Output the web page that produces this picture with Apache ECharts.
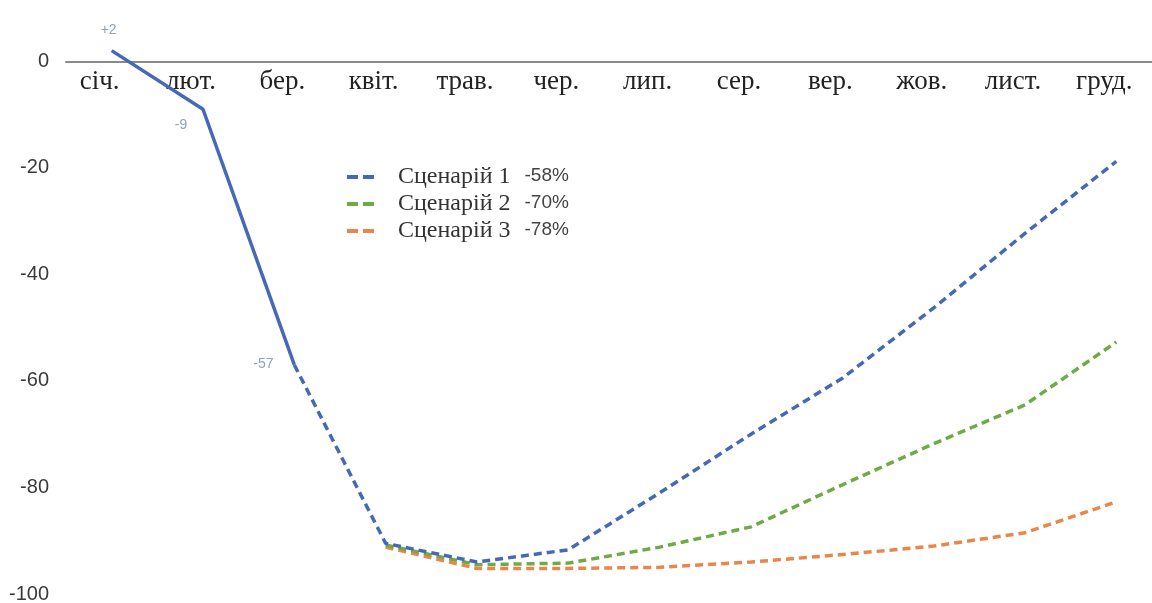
<!DOCTYPE html>
<html>
<head>
<meta charset="utf-8">
<script src="https://cdn.jsdelivr.net/npm/echarts@6/dist/echarts.min.js"></script>
<style>
  html, body { margin: 0; padding: 0; background: #fff; }
  #chart { width: 1152px; height: 603px; }
</style>
</head>
<body>
<div id="chart"></div>
<script>
// Months of the year
const months = ['січ.', 'лют.', 'бер.', 'квіт.', 'трав.', 'чер.', 'лип.', 'сер.', 'вер.', 'жов.', 'лист.', 'груд.'];

// Observed change, %
const actual = [2, -9, -57, null, null, null, null, null, null, null, null, null];

// Forecast scenarios, %
const scenario1 = [null, null, -57, -90.5, -94, -91.7, -81, -70, -59.5, -46.3, -32.3, -18.8];
const scenario2 = [null, null, null, -90.8, -94.5, -94.2, -91.2, -87.4, -79.5, -71.8, -64.5, -52.7];
const scenario3 = [null, null, null, -91.2, -95.2, -95.2, -95, -94, -92.6, -91, -88.5, -82.7];

// Scenario names and yearly totals shown in the legend
const scenarioNames = ['Сценарій 1', 'Сценарій 2', 'Сценарій 3'];
const scenarioTotals = ['-58%', '-70%', '-78%'];

// Y axis range and step
const yMin = -100, yMax = 10, yStep = 20;

const blue = '#4669b6';
const green = '#6eaa46';
const orange = '#e9864a';
const labelColor = '#8ea3c2';

const chart = echarts.init(document.getElementById('chart'), null, { renderer: 'canvas' });

const dashed = (color) => ({ color: color, width: 3.5, type: [8, 5] });

const totalsByName = {};
scenarioNames.forEach((n, i) => { totalsByName[n] = scenarioTotals[i]; });

const gridTop = 8, gridBottom = 9, chartH = 603;
// pixel distance from the bottom edge of the plot up to the zero line
const zeroLift = (chartH - gridTop - gridBottom) * (0 - yMin) / (yMax - yMin);

chart.setOption({
  animation: false,
  backgroundColor: '#fff',
  grid: { left: 66, right: -10, top: gridTop, bottom: gridBottom, outerBoundsMode: 'none', containLabel: false },
  legend: {
    data: scenarioNames,
    orient: 'vertical',
    left: 345,
    top: 165,
    padding: 0,
    itemWidth: 30,
    itemHeight: 14,
    itemGap: 3,
    itemStyle: { opacity: 0 },
    lineStyle: { width: 4, type: [11, 5] },
    formatter: (name) => '{a|' + name + '}{b|' + totalsByName[name] + '}',
    textStyle: {
      rich: {
        a: { fontFamily: 'Liberation Serif', fontSize: 24, lineHeight: 24, color: '#333', padding: [0, 14, 0, 16] },
        b: { fontFamily: 'Liberation Sans', fontSize: 19, lineHeight: 24, color: '#444', padding: [0, 0, 3, 0] }
      }
    }
  },
  xAxis: {
    type: 'category',
    data: months,
    boundaryGap: true,
    position: 'bottom',
    offset: -zeroLift,
    axisLine: { onZero: false, lineStyle: { color: '#8a8a8a', width: 2 } },
    axisTick: { show: false },
    axisLabel: {
      fontFamily: 'Liberation Serif',
      fontSize: 27,
      color: '#222',
      margin: 7,
      padding: [0, 24, 0, 0],
      interval: 0
    },
    splitLine: { show: false }
  },
  yAxis: {
    type: 'value',
    min: yMin,
    max: yMax,
    interval: yStep,
    axisLine: { show: false },
    axisTick: { show: false },
    splitLine: { show: false },
    axisLabel: {
      fontFamily: 'Liberation Sans',
      fontSize: 20,
      color: '#3a3a3a',
      margin: 17,
      formatter: (v) => (v > 0 ? '' : String(v))
    }
  },
  series: [
    {
      name: 'Факт',
      type: 'line',
      data: actual,
      symbol: 'circle',
      symbolSize: 0.01,
      showSymbol: true,
      itemStyle: { color: 'rgba(0,0,0,0)' },
      lineStyle: { color: blue, width: 3.5 },
      z: 5,
      label: {
        show: true,
        fontFamily: 'Liberation Sans',
        fontSize: 14,
        color: labelColor,
        formatter: (p) => (p.value > 0 ? '+' + p.value : String(p.value))
      },
      labelLayout: (p) => {
        if (p.dataIndex === 0) return { dx: -3, dy: -8 };
        if (p.dataIndex === 1) return { dx: -22, dy: 28 };
        return { dx: -31, dy: 11 };
      }
    },
    {
      name: scenarioNames[2],
      type: 'line',
      data: scenario3,
      symbol: 'none',
      lineStyle: dashed(orange),
      itemStyle: { color: orange },
      z: 2
    },
    {
      name: scenarioNames[1],
      type: 'line',
      data: scenario2,
      symbol: 'none',
      lineStyle: dashed(green),
      itemStyle: { color: green },
      z: 3
    },
    {
      name: scenarioNames[0],
      type: 'line',
      data: scenario1,
      symbol: 'none',
      lineStyle: dashed(blue),
      itemStyle: { color: blue },
      z: 4
    }
  ]
});
</script>
</body>
</html>
